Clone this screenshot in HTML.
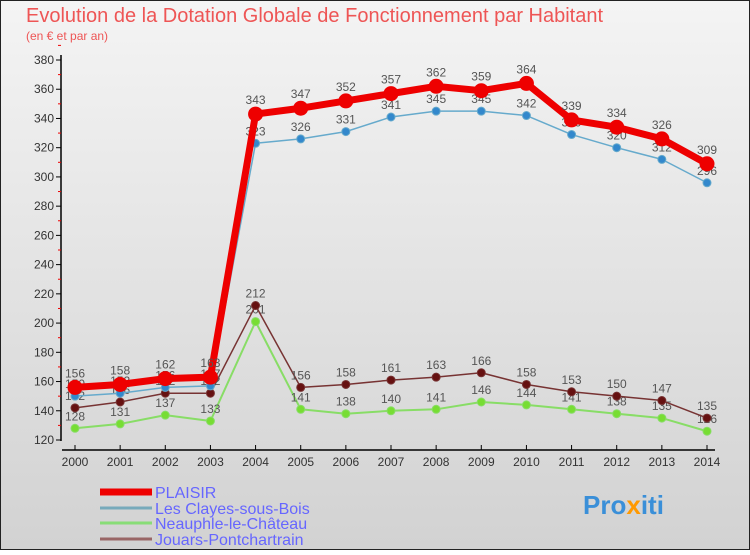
<!DOCTYPE html>
<html><head><meta charset="utf-8"><style>
body{margin:0}
svg text{font-family:"Liberation Sans",sans-serif}
</style></head><body>
<svg width="750" height="550" xmlns="http://www.w3.org/2000/svg">
<defs>
<linearGradient id="bg" x1="0" y1="0" x2="0" y2="1"><stop offset="0" stop-color="#f4f4f4"/><stop offset="1" stop-color="#d2d2d2"/></linearGradient>
</defs>
<rect x="0.5" y="0.5" width="749" height="549" fill="url(#bg)" stroke="#222"/>
<text x="26" y="22" font-size="20" fill="#e55">Evolution de la Dotation Globale de Fonctionnement par Habitant</text>
<text x="26" y="40" font-size="12" fill="#e55">(en € et par an)</text>
<g id="axes"></g>
<g id="series"></g>
<g id="legend">
<line x1="100" y1="492" x2="152" y2="492" stroke="#e00" stroke-width="7"/>
<text x="155" y="498" font-size="16" fill="#66f">PLAISIR</text>
<line x1="100" y1="508" x2="152" y2="508" stroke="#7ab" stroke-width="3"/>
<text x="155" y="514" font-size="16" fill="#66f">Les Clayes-sous-Bois</text>
<line x1="100" y1="523" x2="152" y2="523" stroke="#8d7" stroke-width="3"/>
<text x="155" y="529" font-size="16" fill="#66f">Neauphle-le-Château</text>
<line x1="100" y1="539" x2="152" y2="539" stroke="#966" stroke-width="3"/>
<text x="155" y="545" font-size="16" fill="#66f">Jouars-Pontchartrain</text>
</g>
<text x="583" y="514" font-size="26" font-weight="bold" fill="#3a8fd8">Pro<tspan fill="#f90">x</tspan>iti</text>
</svg>
<script>
const years=[2000,2001,2002,2003,2004,2005,2006,2007,2008,2009,2010,2011,2012,2013,2014];
const yTicks=[120,140,160,180,200,220,240,260,280,300,320,340,360,380];
const plaisir=[156,158,162,163,343,347,352,357,362,359,364,339,334,326,309];
const clayes=[150,152,156,157,323,326,331,341,345,345,342,329,320,312,296];
const neauphle=[128,131,137,133,201,141,138,140,141,146,144,141,138,135,126];
const jouars=[142,146,152,152,212,156,158,161,163,166,158,153,150,147,135];
const NS="http://www.w3.org/2000/svg";
const xs=i=>75+i*(707-75)/14;
const ys=v=>440-(v-120)*(380/260);
function mk(t,a,p){const e=document.createElementNS(NS,t);for(const k in a)e.setAttribute(k,a[k]);p.appendChild(e);return e;}
const ax=document.getElementById('axes');
let l=mk('line',{x1:61,y1:55,x2:61,y2:441,stroke:'#000','stroke-width':1.5},ax);


l=mk('line',{x1:62,y1:450,x2:715,y2:450,stroke:'#000','stroke-width':1.5},ax);


yTicks.forEach(v=>{
 mk('line',{x1:56,y1:ys(v),x2:61,y2:ys(v),stroke:'#000'},ax);
 mk('line',{x1:58,y1:ys(v+10),x2:61,y2:ys(v+10),stroke:'#e00'},ax);
 const t=mk('text',{x:54,y:ys(v)+4,'font-size':12,'text-anchor':'end',fill:'#333'},ax);t.textContent=v;
 
 
});
years.forEach((y,i)=>{
 mk('line',{x1:xs(i),y1:445,x2:xs(i),y2:450,stroke:'#000'},ax);
 const t=mk('text',{x:xs(i),y:466,'font-size':12,'text-anchor':'middle',fill:'#333'},ax);t.textContent=y;
 
 
});
const sg=document.getElementById('series');
function series(data,name,col,dot,w,r,labOff){
 const g=mk('g',{},sg);
 
 
 const p=mk('polyline',{points:data.map((v,i)=>xs(i)+','+ys(v)).join(' '),fill:'none',stroke:col,'stroke-width':w,'stroke-linejoin':'round'},g);
 
 
 data.forEach((v,i)=>{
  const c=mk('circle',{cx:xs(i),cy:ys(v),r:r,fill:dot,stroke:col,'stroke-width':1},g);
  
  
  const t=mk('text',{x:xs(i),y:ys(v)-labOff,'font-size':12,'text-anchor':'middle',fill:'#555'},g);t.textContent=v;
  
  
 });
}
series(neauphle,'neauphle','#8d6','#7d3',2,4,8);
series(jouars,'jouars','#733','#611',1.5,4,8);
series(clayes,'clayes','#6ac','#38c',1.5,4,8);
series(plaisir,'plaisir','#e00','#e00',7,7,10);
</script>
</body></html>
